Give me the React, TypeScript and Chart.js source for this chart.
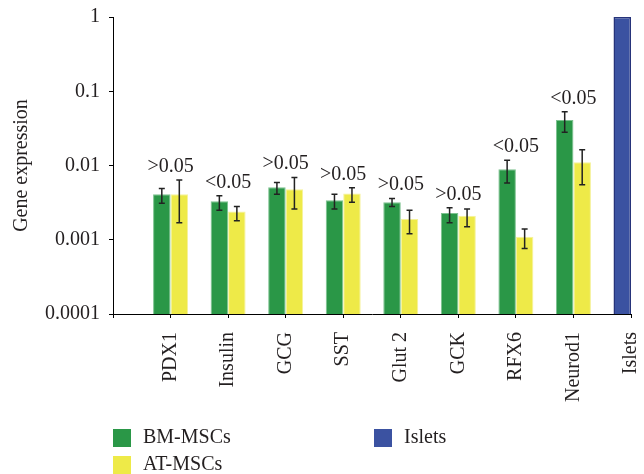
import React, { useEffect, useRef } from "react";
import { Chart, registerables } from "chart.js";

Chart.register(...registerables);

const categories = ["PDX1", "Insulin", "GCG", "SST", "Glut 2", "GCK", "RFX6", "Neurod1", "Islets"];
const seriesNames = ["BM-MSCs", "AT-MSCs", "Islets"];

const bmValues = [0.0041, 0.0033, 0.0051, 0.0034, 0.0032, 0.0023, 0.0089, 0.041];
const bmHigh = [0.0049, 0.0039, 0.0059, 0.0041, 0.0036, 0.0027, 0.0118, 0.053];
const bmLow = [0.0031, 0.0025, 0.0041, 0.0026, 0.0028, 0.0017, 0.0058, 0.028];

const atValues = [0.0041, 0.0024, 0.0048, 0.0042, 0.0019, 0.0021, 0.0011, 0.0111];
const atHigh = [0.0064, 0.0028, 0.0069, 0.005, 0.0025, 0.0026, 0.0014, 0.0163];
const atLow = [0.0017, 0.0018, 0.0026, 0.0032, 0.0012, 0.0015, 0.00076, 0.0055];

const isletsValue = [1];

const pLabels = [">0.05", "<0.05", ">0.05", ">0.05", ">0.05", ">0.05", "<0.05", "<0.05"];

const yTickValues = [0.0001, 0.001, 0.01, 0.1, 1];
const yTickLabels = ["0.0001", "0.001", "0.01", "0.1", "1"];

const GREEN = "#2a9747";
const YELLOW = "#eeea48";
const BLUE = "#3b52a1";
const TEXT = "#231f20";
const FONT = '"Liberation Serif", "Times New Roman", serif';

export default function App() {
  const ref = useRef<HTMLCanvasElement | null>(null);

  useEffect(() => {
    if (!ref.current) return;
    const labels = ["", ...categories];
    const bmData = [null, ...bmValues, null];
    const atData = [null, ...atValues, null];
    const isletsData: (number | null)[] = labels.map(() => null);
    isletsData[labels.length - 1] = isletsValue[0];

    const overlay = {
      id: "overlay",
      afterDatasetsDraw(chart: any) {
        const ctx = chart.ctx;
        const ys = chart.scales.y;
        const xs = chart.scales.x;
        ctx.save();
        ctx.strokeStyle = "#222";
        ctx.lineWidth = 1.5;
        const sets: [number, number[], number[]][] = [
          [0, bmLow, bmHigh],
          [1, atLow, atHigh],
        ];
        sets.forEach(([di, lo, hi]) => {
          const meta = chart.getDatasetMeta(di);
          lo.forEach((l, i) => {
            const el = meta.data[i + 1];
            if (!el) return;
            const x = el.x;
            const yl = ys.getPixelForValue(l);
            const yh = ys.getPixelForValue(hi[i]);
            ctx.beginPath();
            ctx.moveTo(x, yl);
            ctx.lineTo(x, yh);
            ctx.moveTo(x - 3, yl);
            ctx.lineTo(x + 3, yl);
            ctx.moveTo(x - 3, yh);
            ctx.lineTo(x + 3, yh);
            ctx.stroke();
          });
        });
        ctx.fillStyle = TEXT;
        ctx.font = `20px ${FONT}`;
        ctx.textAlign = "center";
        ctx.textBaseline = "alphabetic";
        pLabels.forEach((t, i) => {
          const top = Math.min(ys.getPixelForValue(bmHigh[i]), ys.getPixelForValue(atHigh[i]));
          const x = xs.getPixelForValue(i + 1);
          ctx.fillText(t, x, top - 8);
        });
        ctx.restore();
      },
      afterDraw(chart: any) {
        const ctx = chart.ctx;
        ctx.save();
        const items = [
          { name: seriesNames[0], color: GREEN, x: 113, y: 429 },
          { name: seriesNames[1], color: YELLOW, x: 113, y: 456 },
          { name: seriesNames[2], color: BLUE, x: 374, y: 429 },
        ];
        ctx.font = `20px ${FONT}`;
        ctx.textAlign = "left";
        ctx.textBaseline = "alphabetic";
        items.forEach((it) => {
          ctx.fillStyle = it.color;
          ctx.fillRect(it.x, it.y, 18, 18);
          ctx.fillStyle = TEXT;
          ctx.fillText(it.name, it.x + 30, it.y + 14);
        });
        ctx.restore();
      },
    };

    const chart = new Chart(ref.current, {
      type: "bar",
      data: {
        labels,
        datasets: [
          {
            label: seriesNames[0],
            data: bmData,
            backgroundColor: GREEN,
            borderColor: "#7cc28f",
            borderWidth: 1,
            stack: "a",
          },
          {
            label: seriesNames[1],
            data: atData,
            backgroundColor: YELLOW,
            borderColor: "#f5f29a",
            borderWidth: 1,
            stack: "b",
          },
          {
            label: seriesNames[2],
            data: isletsData,
            backgroundColor: BLUE,
            borderColor: "#26337a",
            borderWidth: 1.5,
            stack: "a",
          },
        ],
      },
      options: {
        responsive: false,
        animation: false,
        devicePixelRatio: 1,
        categoryPercentage: 0.608,
        barPercentage: 1,
        layout: { padding: { left: 0, right: 13, top: 17, bottom: 0 } },
        plugins: { legend: { display: false }, tooltip: { enabled: false } },
        scales: {
          x: {
            type: "category",
            offset: false,
            grid: {
              display: true,
              drawOnChartArea: false,
              drawTicks: true,
              tickLength: 4,
              color: "#000",
              offset: false,
            },
            border: { display: true, color: "#000", width: 1 },
            ticks: {
              autoSkip: false,
              minRotation: 90,
              maxRotation: 90,
              padding: 14,
              color: TEXT,
              font: { family: FONT, size: 20 },
            },
            afterFit(scale: any) {
              scale.height = 160;
              scale.paddingLeft = 0;
              scale.paddingRight = 0;
            },
          },
          y: {
            type: "logarithmic",
            min: 0.0001,
            max: 1,
            stacked: false,
            grid: {
              display: true,
              drawOnChartArea: false,
              drawTicks: true,
              tickLength: 4,
              color: "#000",
            },
            border: { display: true, color: "#000", width: 1 },
            afterBuildTicks(scale: any) {
              scale.ticks = yTickValues.map((v) => ({ value: v, major: true }));
            },
            ticks: {
              padding: 9,
              color: TEXT,
              font: { family: FONT, size: 20 },
              callback: (v: any) => {
                const idx = yTickValues.findIndex((t) => Math.abs(t - Number(v)) < t * 1e-6);
                return idx >= 0 ? yTickLabels[idx] : "";
              },
            },
            title: {
              display: true,
              text: "Gene expression",
              color: TEXT,
              font: { family: FONT, size: 20 },
              padding: { top: 10, bottom: 0 },
            },
            afterFit(scale: any) {
              scale.width = 113;
              scale.paddingTop = 0;
              scale.paddingBottom = 0;
            },
          },
        },
      },
      plugins: [overlay],
    } as any);

    return () => chart.destroy();
  }, []);

  return (
    <div style={{ position: "fixed", left: 0, top: 0, width: 644, height: 474, background: "#fff" }}>
      <canvas ref={ref} width={644} height={474} style={{ display: "block" }} />
    </div>
  );
}
